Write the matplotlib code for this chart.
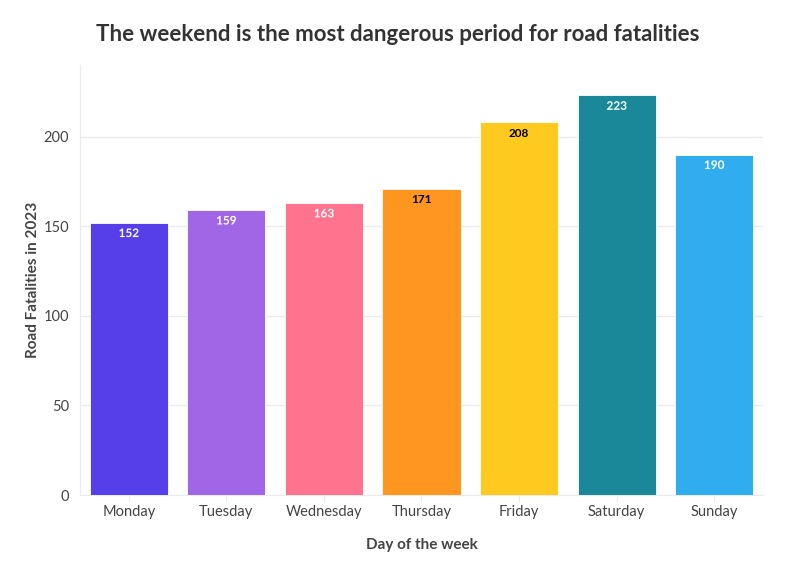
import matplotlib.pyplot as plt
import matplotlib.patheffects as pe

plt.rcParams['font.family'] = ['Lato', 'DejaVu Sans']

# Data
days = ['Monday', 'Tuesday', 'Wednesday', 'Thursday', 'Friday', 'Saturday', 'Sunday']
fatalities = [152, 159, 163, 171, 208, 223, 190]
colors = ['#563FE8', '#A066E6', '#FF738F', '#FF961F', '#FFCA1F', '#1B8899', '#30ADEE']
label_colors = ['white', 'white', 'white', 'black', 'black', 'white', 'white']

fig = plt.figure(figsize=(7.96, 5.75), dpi=100)
ax = fig.add_axes([0.1005, 0.139, 0.858, 0.748])

x = range(len(days))
bars = ax.bar(x, fatalities, width=0.8, color=colors, edgecolor='white', linewidth=0.6, zorder=3)

for xi, v, c, lc in zip(x, fatalities, colors, label_colors):
    effects = [pe.withStroke(linewidth=2, foreground=c)] if lc == 'white' else []
    ax.text(xi, v - 3, str(v), ha='center', va='top', fontsize=8.5, fontweight='bold',
            color=lc, path_effects=effects, zorder=4)

ax.set_xlim(-0.5, len(days) - 0.5)
ax.set_ylim(0, 240)
ax.set_yticks([0, 50, 100, 150, 200])
ax.set_xticks(list(x))
ax.set_xticklabels(days)

ax.grid(axis='y', color='#ebebeb', linewidth=1, zorder=0)
for s in ['top', 'right']:
    ax.spines[s].set_visible(False)
ax.spines['left'].set_color('#ebebeb')
ax.spines['bottom'].set_color('#ebebeb')
ax.tick_params(axis='y', length=0, pad=8, labelsize=10.5, labelcolor='#444444')
ax.tick_params(axis='x', length=5, color='#ebebeb', pad=2, labelsize=10.5, labelcolor='#444444')

ax.set_xlabel('Day of the week', fontsize=11, fontweight='bold', color='#444444', labelpad=14)
ax.set_ylabel('Road Fatalities in 2023', fontsize=11, fontweight='bold', color='#444444', labelpad=2)

fig.suptitle('The weekend is the most dangerous period for road fatalities', x=0.5, y=0.958,
             fontsize=16, fontweight='bold', color='#333333')

fig.savefig('out.png', dpi=100)
